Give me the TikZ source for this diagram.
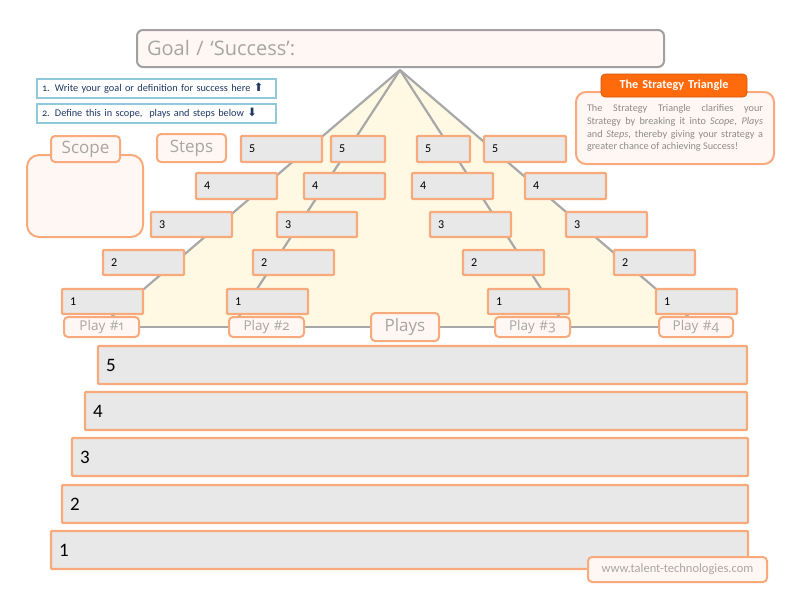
\documentclass[tikz,border=0pt]{standalone}
\usepackage{fontspec}
\setmainfont{Carlito}
\newfontfamily\labfont[Numbers=OldStyle]{Open Sans}
\newfontfamily\instfont[Numbers=OldStyle]{Carlito}
\newfontfamily\arrfont{DejaVu Sans}
\definecolor{orb}{HTML}{F9AA7C}
\definecolor{stepfill}{HTML}{E8E8E8}
\definecolor{lightfill}{HTML}{FFF7F3}
\definecolor{trifill}{HTML}{FFF9E3}
\definecolor{lineg}{HTML}{A8A8A8}
\definecolor{goalb}{HTML}{A0A0A0}
\definecolor{heador}{HTML}{FF6A0D}
\definecolor{instb}{HTML}{8FC9DA}
\definecolor{navy}{HTML}{1F3864}
\definecolor{labgray}{HTML}{A6A6A6}
\definecolor{bodygray}{HTML}{8C8C8C}
\pgfdeclarelayer{background}
\pgfsetlayers{background,main}
\def\pbmargin{8}
\newcommand{\pbox}[8][]{%
  \pgfmathsetmacro\pbw{#6-#4}%
  \pgfmathsetmacro\pbh{#7-#5}%
  \pgfmathsetmacro\pbtw{#6-#4-2*\pbmargin}%
  \pgfmathsetmacro\pbcx{(#4+#6)/2}%
  \pgfmathsetmacro\pbcy{(#5+#7)/2}%
  \node[#3, minimum width=\pbw pt, minimum height=\pbh pt, text width=\pbtw pt,
        inner xsep=\pbmargin pt, inner ysep=1pt, #1] (#2) at (\pbcx,\pbcy) {#8};}
\tikzset{
  stepbox/.style={draw=orb, line width=2.2pt, fill=stepfill, rounded corners=1pt, align=left,
    font=\fontsize{12}{14}\selectfont, text=black},
  widebox/.style={draw=orb, line width=2.2pt, fill=stepfill, rounded corners=1pt, align=left,
    font=\fontsize{19}{22}\selectfont, text=black},
  labbox/.style={draw=orb, line width=2pt, fill=lightfill, rounded corners=4pt, align=center,
    text=labgray},
  goalbox/.style={draw=goalb, line width=2pt, fill=lightfill, rounded corners=6pt, align=left,
    text=labgray, font=\labfont\fontsize{20}{22}\selectfont},
  instbox/.style={draw=instb, line width=1.6pt, fill=white, align=left, text=navy,
    font=\instfont\fontsize{10.3}{12}\selectfont},
  headbox/.style={fill=heador, draw=heador!80!black, line width=0.6pt, rounded corners=4pt,
    align=center, text=white, font=\bfseries\fontsize{12.2}{14}\selectfont},
  bodybox/.style={draw=orb, line width=2pt, fill=lightfill, rounded corners=10pt, align=justify,
    text=bodygray, font=\fontsize{10.2}{12.8}\selectfont},
  glines/.style={draw=lineg, line width=2.2pt},
}
\begin{document}
\begin{tikzpicture}[x=1pt,y=-1pt]
\useasboundingbox (0,0) rectangle (791,611);
\coordinate (apex) at (400,70);
\coordinate (e1) at (110,318);
\coordinate (e2) at (238,318);
\coordinate (e3) at (560,318);
\coordinate (e4) at (690,318);
\coordinate (tl) at (99,327);
\coordinate (tr) at (701,327);

% goal and instructions
\def\pbmargin{10}
\pbox{goal}{goalbox}{137}{30}{664}{67}{Goal / ‘Success’:}
\def\pbmargin{5}
\pbox{inst1}{instbox}{37}{79}{276}{98}{1. Write your goal or definition for success here {\arrfont\fontsize{11.5}{10}\selectfont ⬆}}
\pbox{inst2}{instbox}{37}{104}{276}{123}{2. Define this in scope,\ \ plays and steps below {\arrfont\fontsize{11.5}{10}\selectfont ⬇}}

% strategy triangle info
\def\pbmargin{11}
\pbox[yshift=-3pt]{info}{bodybox}{576}{89}{774}{161}{The Strategy Triangle clarifies your\linebreak Strategy by breaking it into \textit{Scope}, \textit{Plays}\linebreak and \textit{Steps}, thereby giving your strategy a\linebreak greater chance of achieving Success!}
\def\pbmargin{8}
\pbox{infohead}{headbox}{601}{74}{747}{97}{The Strategy Triangle}

% scope
\pbox[rounded corners=12pt]{scopebox}{labbox}{27}{155}{143}{237}{}
\pbox[font=\labfont\fontsize{17}{19}\selectfont]{scope}{labbox}{51}{136}{120}{162}{Scope}
\pbox[font=\labfont\fontsize{17}{19}\selectfont]{steps}{labbox}{157}{134}{226}{162}{Steps}

% column 1
\pbox{a5}{stepbox}{241}{136}{322}{162}{5}
\pbox{a4}{stepbox}{196}{173}{277}{199}{4}
\pbox{a3}{stepbox}{151}{212}{232}{237}{3}
\pbox{a2}{stepbox}{103}{250}{184}{275}{2}
\pbox{a1}{stepbox}{62}{289}{143}{314}{1}
% column 2
\pbox{b5}{stepbox}{331}{136}{385}{162}{5}
\pbox{b4}{stepbox}{304}{173}{385}{199}{4}
\pbox{b3}{stepbox}{277}{212}{357}{237}{3}
\pbox{b2}{stepbox}{253}{250}{334}{275}{2}
\pbox{b1}{stepbox}{227}{289}{308}{314}{1}
% column 3
\pbox{c5}{stepbox}{417}{136}{470}{162}{5}
\pbox{c4}{stepbox}{412}{173}{493}{199}{4}
\pbox{c3}{stepbox}{430}{212}{511}{237}{3}
\pbox{c2}{stepbox}{463}{250}{544}{275}{2}
\pbox{c1}{stepbox}{488}{289}{569}{314}{1}
% column 4
\pbox{d5}{stepbox}{484}{136}{566}{162}{5}
\pbox{d4}{stepbox}{525}{173}{606}{199}{4}
\pbox{d3}{stepbox}{566}{212}{647}{237}{3}
\pbox{d2}{stepbox}{614}{250}{695}{275}{2}
\pbox{d1}{stepbox}{656}{289}{737}{314}{1}

% plays
\pbox[font=\labfont\fontsize{13.5}{15}\selectfont, inner xsep=2pt]{p1}{labbox}{64}{317}{139}{337}{Play \#1}
\pbox[font=\labfont\fontsize{13.5}{15}\selectfont, inner xsep=2pt]{p2}{labbox}{229}{317}{304}{337}{Play \#2}
\pbox[font=\labfont\fontsize{17}{19}\selectfont]{plays}{labbox}{371}{313}{439}{341}{Plays}
\pbox[font=\labfont\fontsize{13.5}{15}\selectfont, inner xsep=2pt]{p3}{labbox}{495}{317}{570}{337}{Play \#3}
\pbox[font=\labfont\fontsize{13.5}{15}\selectfont, inner xsep=2pt]{p4}{labbox}{659}{317}{733}{337}{Play \#4}

% wide step rows
\pbox{w5}{widebox}{98}{346}{747}{384}{5}
\pbox{w4}{widebox}{85}{392}{747}{430}{4}
\pbox{w3}{widebox}{72}{438}{748}{476}{3}
\pbox{w2}{widebox}{62}{485}{748}{523}{2}
\pbox{w1}{widebox}{51}{531}{748}{569}{1}

\pbox[font=\fontsize{12.5}{14}\selectfont, inner xsep=2pt]{web}{labbox}{588}{557}{767}{582}{www.talent-technologies.com}

\begin{pgfonlayer}{background}
  \fill[white] (0,0) rectangle (791,611);
  \fill[trifill] (apex) -- (tl) -- (tr) -- cycle;
  \draw[glines] (apex) -- (e1);
  \draw[glines] (apex) -- (e2);
  \draw[glines] (apex) -- (e3);
  \draw[glines] (apex) -- (e4);
  \draw[glines] (p1) -- (p4);
\end{pgfonlayer}
\end{tikzpicture}
\end{document}
